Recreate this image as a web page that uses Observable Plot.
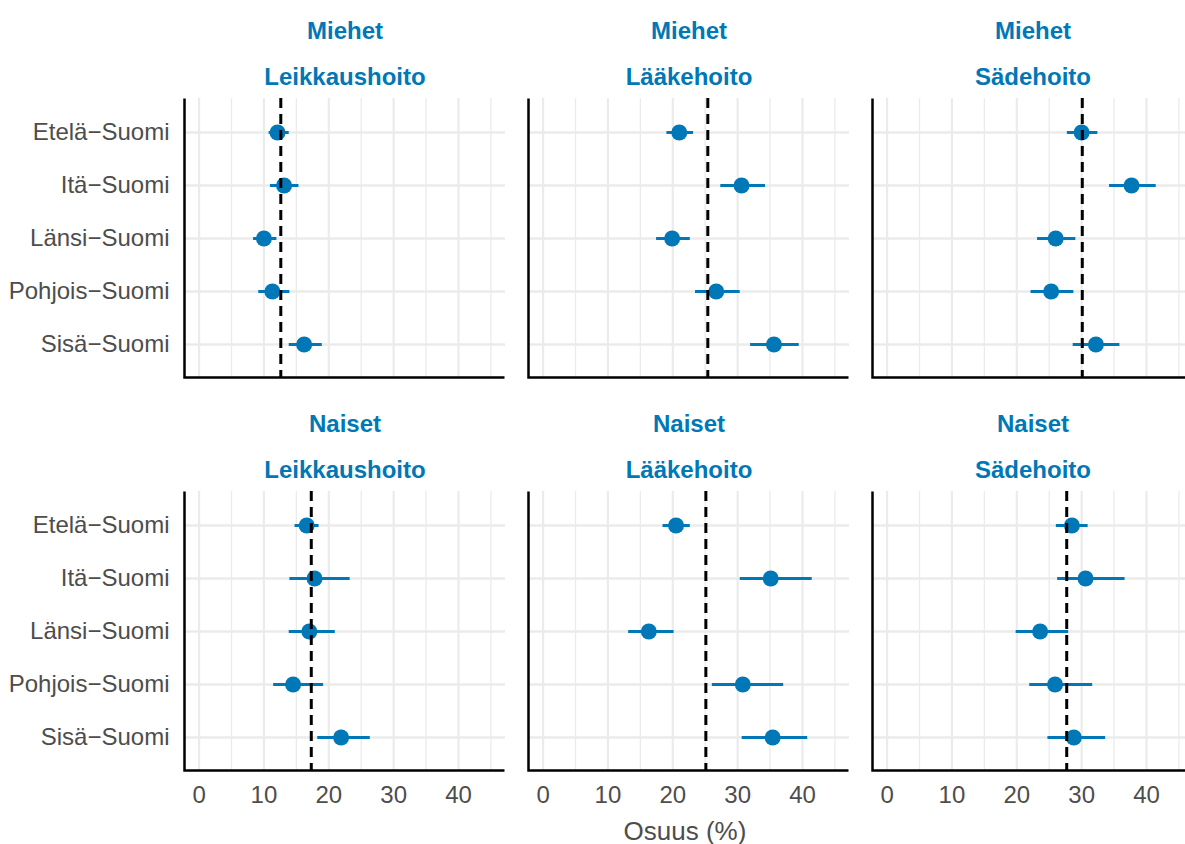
<!DOCTYPE html>
<html>
<head>
<meta charset="utf-8">
<script src="https://cdn.jsdelivr.net/npm/d3@7"></script>
<script src="https://cdn.jsdelivr.net/npm/@observablehq/plot@0.6"></script>
<style>
  html, body { margin: 0; padding: 0; background: #fff; overflow: hidden; }
  #chart svg { display: block; }
</style>
</head>
<body>
<div id="chart"></div>
<script>
// Categories
const regions = ["Etelä−Suomi", "Itä−Suomi", "Länsi−Suomi", "Pohjois−Suomi", "Sisä−Suomi"];
const sexes = ["Miehet", "Naiset"];
const treatments = ["Leikkaushoito", "Lääkehoito", "Sädehoito"];
const xTicks = [0, 10, 20, 30, 40];
const xMinorTicks = [5, 15, 25, 35, 45];
const xLabel = "Osuus (%)";

// Miehet
const miehetLeikkausEst = [12.1, 13.1, 10.0, 11.3, 16.2];
const miehetLeikkausLo  = [10.8, 11.0, 8.4, 9.2, 13.9];
const miehetLeikkausHi  = [13.9, 15.4, 12.0, 14.0, 19.0];
const miehetLaakeEst = [21.0, 30.6, 19.9, 26.7, 35.6];
const miehetLaakeLo  = [19.1, 27.4, 17.5, 23.5, 32.0];
const miehetLaakeHi  = [23.2, 34.3, 22.7, 30.4, 39.5];
const miehetSadeEst = [30.0, 37.7, 26.0, 25.3, 32.2];
const miehetSadeLo  = [27.8, 34.3, 23.2, 22.2, 28.7];
const miehetSadeHi  = [32.5, 41.5, 29.1, 28.8, 35.9];
// Naiset
const naisetLeikkausEst = [16.6, 17.8, 17.0, 14.5, 21.9];
const naisetLeikkausLo  = [14.8, 14.0, 13.9, 11.5, 18.3];
const naisetLeikkausHi  = [18.5, 23.3, 21.0, 19.2, 26.4];
const naisetLaakeEst = [20.5, 35.1, 16.3, 30.8, 35.4];
const naisetLaakeLo  = [18.5, 30.4, 13.2, 26.1, 30.7];
const naisetLaakeHi  = [22.7, 41.5, 20.2, 37.1, 40.8];
const naisetSadeEst = [28.5, 30.6, 23.6, 25.9, 28.8];
const naisetSadeLo  = [26.1, 26.3, 19.9, 22.0, 24.8];
const naisetSadeHi  = [31.0, 36.7, 28.0, 31.7, 33.7];
// Reference (overall) lines, order: Leikkaushoito, Lääkehoito, Sädehoito
const miehetRef = [12.6, 25.4, 30.1];
const naisetRef = [17.3, 25.1, 27.7];

const blue = "#0077b6";

const panels = [
  ["Miehet", "Leikkaushoito", miehetLeikkausEst, miehetLeikkausLo, miehetLeikkausHi],
  ["Miehet", "Lääkehoito", miehetLaakeEst, miehetLaakeLo, miehetLaakeHi],
  ["Miehet", "Sädehoito", miehetSadeEst, miehetSadeLo, miehetSadeHi],
  ["Naiset", "Leikkaushoito", naisetLeikkausEst, naisetLeikkausLo, naisetLeikkausHi],
  ["Naiset", "Lääkehoito", naisetLaakeEst, naisetLaakeLo, naisetLaakeHi],
  ["Naiset", "Sädehoito", naisetSadeEst, naisetSadeLo, naisetSadeHi]
];
const data = panels.flatMap(([sex, treat, est, lo, hi]) =>
  regions.map((region, i) => ({sex, treat, region, est: est[i], lo: lo[i], hi: hi[i]})));
const refs = [
  ...treatments.map((treat, i) => ({sex: "Miehet", treat, v: miehetRef[i]})),
  ...treatments.map((treat, i) => ({sex: "Naiset", treat, v: naisetRef[i]}))
];
const facets = sexes.flatMap(sex => treatments.map(treat => ({sex, treat})));

const font = "'Liberation Sans', Arial, Helvetica, sans-serif";

const chart = Plot.plot({
  width: 1185,
  height: 844,
  marginLeft: 184,
  marginRight: -8,
  marginTop: 97,
  marginBottom: 73,
  style: {fontFamily: font, fontSize: "24px", background: "#fff", overflow: "hidden"},
  fx: {domain: treatments, paddingInner: 0.0669, paddingOuter: 0, axis: null},
  fy: {domain: sexes, paddingInner: 0.289, paddingOuter: 0, axis: null},
  x: {domain: [-2.25, 47.25]},
  y: {domain: regions, padding: 0.6},
  marks: [
    Plot.ruleX(xMinorTicks, {stroke: "#ebebeb", strokeWidth: 1.3}),
    Plot.ruleX(xTicks, {stroke: "#ebebeb", strokeWidth: 2.2}),
    Plot.ruleY(regions, {y: d => d, stroke: "#ebebeb", strokeWidth: 2.5}),
    Plot.frame({stroke: "#000", strokeWidth: 2.5, strokeDasharray: "0 601 800"}),
    Plot.axisX({ticks: xTicks, tickSize: 0, tickPadding: 15, color: "#4d4d4d", label: null, fontSize: 24}),
    Plot.axisY({tickSize: 0, tickPadding: 15, color: "#4d4d4d", label: null, fontSize: 24}),
    Plot.ruleY(data, {y: "region", x1: "lo", x2: "hi", fx: "treat", fy: "sex", stroke: blue, strokeWidth: 3}),
    Plot.dot(data, {x: "est", y: "region", fx: "treat", fy: "sex", r: 8, fill: blue, stroke: null}),
    Plot.ruleX(refs, {x: "v", fx: "treat", fy: "sex", stroke: "#000", strokeWidth: 3, strokeDasharray: "10,6"}),
    Plot.text(facets, {fx: "treat", fy: "sex", text: "sex", frameAnchor: "top", dy: -77, fill: blue, fontWeight: "bold", fontSize: 24}),
    Plot.text(facets, {fx: "treat", fy: "sex", text: "treat", frameAnchor: "top", dy: -31, fill: blue, fontWeight: "bold", fontSize: 24}),
    Plot.text([{sex: "Naiset", treat: "Lääkehoito", t: xLabel}], {fx: "treat", fy: "sex", text: "t", frameAnchor: "bottom", dx: -4, dy: 69, fill: "#4d4d4d", fontSize: 26})
  ]
});
document.getElementById("chart").appendChild(chart);
</script>
</body>
</html>
